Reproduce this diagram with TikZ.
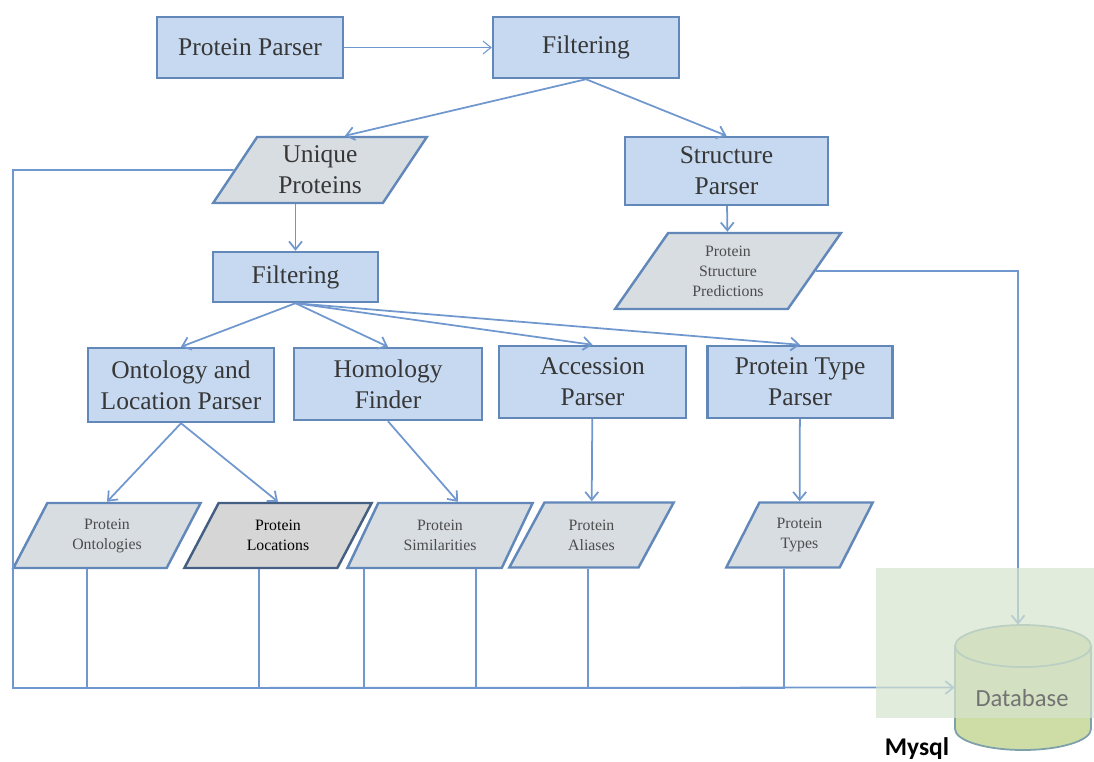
\documentclass[tikz,border=0pt]{standalone}
\usepackage{fontspec}
\setmainfont{Liberation Serif}
\newfontfamily\dbfont{Carlito}
\usetikzlibrary{arrows.meta,positioning,calc,shapes.geometric}
\definecolor{boxfill}{RGB}{198,217,240}
\definecolor{boxline}{RGB}{98,136,186}
\definecolor{datfill}{RGB}{216,221,226}
\definecolor{lnk}{RGB}{112,152,206}
\definecolor{dbfill}{RGB}{206,221,166}
\definecolor{dbline}{RGB}{125,160,170}
\definecolor{dbback}{RGB}{214,228,206}
\definecolor{txt}{RGB}{55,55,55}
\tikzset{box/.style={draw=boxline,line width=1.4pt,fill=boxfill,align=center,inner sep=2pt,text=txt,font=\fontsize{14.5}{17.5}\selectfont},
  data/.style={box,fill=datfill,shape=trapezium,trapezium left angle=60,trapezium right angle=120,trapezium stretches=true},
  store/.style={data,trapezium left angle=62,trapezium right angle=118,font=\fontsize{9}{11.4}\selectfont,text=black!70},
  arr/.style={-{Straight Barb[length=1.6mm,width=2.6mm]},draw=lnk,line width=1pt},
  link/.style={draw=lnk,line width=1.1pt},
  dbrim/.style={x radius=1.36cm,y radius=0.42cm}}

\begin{document}
\begin{tikzpicture}[x=0.02cm,y=-0.02cm]
\useasboundingbox (0,0) rectangle (1094,761);
\node[box,minimum width=3.72cm,minimum height=1.22cm] (pp) at (250,47.5){Protein Parser}; \node[box,minimum width=3.72cm,minimum height=1.22cm] (f1) at (586,47.5){Filtering};
\node[data,minimum width=4.28cm,minimum height=1.32cm] (uniq) at (320,170){Unique\\Proteins}; \node[box,minimum width=4.06cm,minimum height=1.36cm] (sp) at (726.5,171){Structure\\Parser};
\node[box,minimum width=3.3cm,minimum height=1cm] (f2) at (295.5,277){Filtering};
\node[store,minimum width=4.52cm,minimum height=1.52cm,trapezium left angle=59,trapezium right angle=121] (psp) at (728,271){Protein\\Structure\\Predictions};
\node[box,minimum width=3.72cm,minimum height=1.48cm] (ont) at (181,385){Ontology and\\Location Parser}; \node[box,minimum width=3.76cm,minimum height=1.44cm] (hom) at (388,384){Homology\\Finder};
\node[box,minimum width=3.74cm,minimum height=1.44cm] (acc) at (592.5,382){Accession\\Parser}; \node[box,minimum width=3.7cm,minimum height=1.44cm] (pty) at (800,382){Protein Type\\Parser};
\node[store,minimum width=3.76cm,minimum height=1.3cm] (onto) at (107,535.5){Protein\\Ontologies};
\node[store,minimum width=3.76cm,minimum height=1.3cm,fill=black!16,draw=boxline!70!black,text=black] (loca) at (278,535.5){Protein\\Locations};
\node[store,minimum width=3.72cm,minimum height=1.3cm] (simi) at (440,535.5){Protein\\Similarities};
\node[store,minimum width=3.3cm,minimum height=1.3cm] (alia) at (591.5,535){Protein\\Aliases}; \node[store,minimum width=2.94cm,minimum height=1.3cm] (typs) at (799.5,535){Protein\\Types};
% database drum
\node[minimum width=2.72cm,minimum height=2.5cm,inner sep=0pt] (db) at (1023,687.5){};
\draw[draw=dbline,line width=1pt,fill=dbfill] (955,646) -- (955,729) arc[start angle=180,end angle=360,dbrim] -- (1091,646) arc[start angle=0,end angle=180,dbrim] -- cycle;
\draw[draw=dbline,line width=1pt] (955,646) arc[start angle=180,end angle=360,dbrim];
\coordinate (busL) at (13,688);
% connectors
\draw[arr,line width=0.6pt] (pp)--(f1); \draw[arr] (f1.south)--([xshift=5mm]uniq.north); \draw[arr] (f1.south)--(sp.north);
\draw[arr] (uniq.south-|f2.north)--(f2.north); \draw[arr] (sp)--(psp);
\draw[arr] (f2.south)--(ont.north); \draw[arr] (f2.south)--(hom.north); \draw[arr] (f2.south)--(acc.north); \draw[arr] (f2.south)--(pty.north);
\draw[arr] (ont.south)--(onto.north); \draw[arr] (ont.south)--(loca.north); \draw[arr] (hom.south)--([xshift=3.6mm]simi.north);
\draw[arr] (acc)--(alia); \draw[arr] (pty)--(typs);
\draw[link] ([xshift=-4mm]onto.south) |- (busL); \draw[link] ([xshift=-3.8mm]loca.south) |- (busL);
\draw[link] ([xshift=-15.2mm]simi.south) |- (busL); \draw[link] ([xshift=7.2mm]simi.south) |- (busL);
\draw[link] ([xshift=-0.7mm]alia.south) |- (busL); \draw[link] ([xshift=-3.1mm]typs.south) |- (busL);
\draw[arr] (uniq.west) -| (busL) -- (db.west);
\draw[arr] (psp.east) -| ([xshift=-1mm]db.north);
\fill[dbback,fill opacity=0.7] (876,568) rectangle (1094,718);
\node[font=\dbfont\fontsize{14}{16}\selectfont,text=black!55] (dbl) at (1022,698){Database};
\node[font=\dbfont\bfseries\fontsize{14.5}{16}\selectfont] (mysql) at (917,749){Mysql};
\end{tikzpicture}
\end{document}
